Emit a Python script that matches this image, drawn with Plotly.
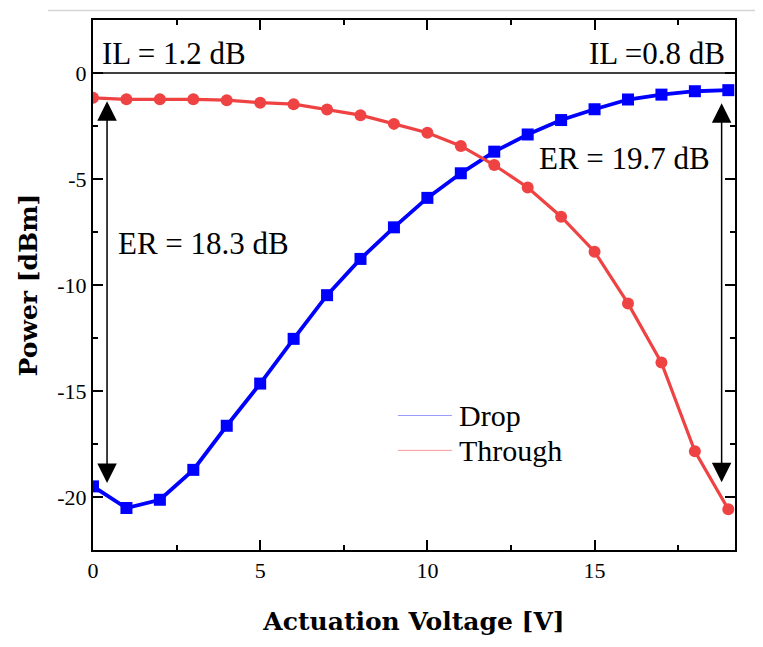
import plotly.graph_objects as go

# ---- data ----
voltage = list(range(20))
drop_dbm = [-19.50, -20.52, -20.13, -18.72, -16.64, -14.65, -12.54, -10.48, -8.77, -7.28,
            -5.89, -4.73, -3.71, -2.90, -2.22, -1.71, -1.25, -1.02, -0.86, -0.81]
through_dbm = [-1.17, -1.24, -1.24, -1.24, -1.28, -1.40, -1.47, -1.72, -1.99, -2.40,
               -2.82, -3.44, -4.34, -5.40, -6.78, -8.43, -10.87, -13.66, -17.84, -20.58]

x_tickvals = [0, 5, 10, 15]
x_ticktext = ["0", "5", "10", "15"]
y_tickvals = [0, -5, -10, -15, -20]
y_ticktext = ["0", "-5", "-10", "-15", "-20"]

# extinction-ratio arrows (x position, top tip, bottom tip)
er_left = (0.42, -1.26, -19.34)
er_right = (18.8, -1.36, -19.30)

FONT = "Liberation Serif"
BOLD_FONT = "DejaVu Serif"
BLUE = "#0000FF"
RED = "#EF4343"

fig = go.Figure()
fig.add_trace(go.Scatter(x=voltage, y=drop_dbm, mode="lines+markers", name="Drop",
                         line=dict(color=BLUE, width=3.8),
                         marker=dict(symbol="square", size=12, color=BLUE),
                         showlegend=False))
fig.add_trace(go.Scatter(x=voltage, y=through_dbm, mode="lines+markers", name="Through",
                         line=dict(color=RED, width=3.2),
                         marker=dict(symbol="circle", size=12, color=RED),
                         showlegend=False))

axis_common = dict(
    showline=True, linecolor="black", linewidth=2, mirror="allticks",
    ticks="inside", ticklen=10, tickwidth=1.5, tickcolor="black",
    showgrid=False, zeroline=False,
    tickfont=dict(family=FONT, size=22, color="black"),
)

fig.update_xaxes(range=[0, 19.2], tickvals=x_tickvals, ticktext=x_ticktext,
                 minor=dict(ticks="inside", ticklen=5, tickwidth=1.5, tickcolor="black", dtick=2.5, tick0=0),
                 title=dict(text="<b>Actuation Voltage [V]</b>", standoff=30,
                            font=dict(family=BOLD_FONT, size=25, color="black")),
                 **axis_common)
fig.update_yaxes(range=[-22.5, 2.5], tickvals=y_tickvals, ticktext=y_ticktext,
                 minor=dict(ticks="inside", ticklen=5, tickwidth=1.5, tickcolor="black", dtick=2.5, tick0=0),
                 title=dict(text="<b>Power [dBm]</b>", standoff=13,
                            font=dict(family=BOLD_FONT, size=25, color="black")),
                 **axis_common)

shapes = [
    # zero reference line
    dict(type="line", xref="paper", yref="y", x0=0, x1=1, y0=0, y1=0,
         line=dict(color="black", width=1.5)),
    # thin gray rule at very top
    dict(type="line", xref="paper", yref="paper", x0=-0.07, x1=1.05, y0=1.018, y1=1.018,
         line=dict(color="#D4D4D4", width=1.5)),
    # legend samples
    dict(type="line", xref="paper", yref="paper", x0=0.475, x1=0.559, y0=0.2538, y1=0.2538,
         line=dict(color="#9A9AFF", width=1)),
    dict(type="line", xref="paper", yref="paper", x0=0.475, x1=0.559, y0=0.188, y1=0.188,
         line=dict(color="#FF9A9A", width=1)),
]

tf = dict(family=FONT, size=31, color="black")
annotations = [
    dict(text="IL = 1.2 dB", xref="paper", yref="paper", x=0.011, y=0.936,
         xanchor="left", yanchor="middle", showarrow=False, font=tf),
    dict(text="IL =0.8 dB", xref="paper", yref="paper", x=0.9875, y=0.936,
         xanchor="right", yanchor="middle", showarrow=False, font=tf),
    dict(text="ER = 18.3 dB", xref="paper", yref="paper", x=0.0358, y=0.579,
         xanchor="left", yanchor="middle", showarrow=False, font=tf),
    dict(text="ER = 19.7 dB", xref="paper", yref="paper", x=0.964, y=0.7387,
         xanchor="right", yanchor="middle", showarrow=False, font=tf),
    dict(text="Drop", xref="paper", yref="paper", x=0.567, y=0.2538,
         xanchor="left", yanchor="middle", showarrow=False,
         font=dict(family=FONT, size=30, color="black")),
    dict(text="Through", xref="paper", yref="paper", x=0.567, y=0.188,
         xanchor="left", yanchor="middle", showarrow=False,
         font=dict(family=FONT, size=30, color="black")),
]
for xv, ytop, ybot in (er_left, er_right):
    annotations.append(dict(x=xv, y=ybot, ax=xv, ay=ytop, xref="x", yref="y",
                            axref="x", ayref="y", text="", showarrow=True,
                            arrowhead=2, arrowside="end+start", arrowsize=2.6,
                            arrowwidth=1.5, arrowcolor="black", standoff=0, startstandoff=0))

fig.update_layout(
    width=755, height=639,
    margin=dict(l=85, r=28, t=10, b=97),
    paper_bgcolor="white", plot_bgcolor="white",
    shapes=shapes, annotations=annotations,
    showlegend=False,
)

fig.write_html("out.html")
